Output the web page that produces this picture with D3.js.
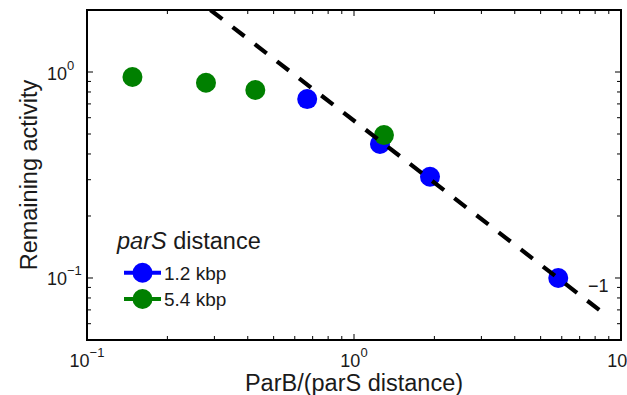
<!DOCTYPE html>
<html>
<head>
<meta charset="utf-8">
<script src="https://cdn.jsdelivr.net/npm/d3@7"></script>
<style>
  html, body { margin: 0; padding: 0; background: #fff; }
  svg { display: block; font-family: "Liberation Sans", Arial, Helvetica, sans-serif; }
  text { fill: #1a1a1a; }
</style>
</head>
<body>
<svg id="chart" width="627" height="395"></svg>
<script>
// Measured activity vs. ParB per parS distance, two parS spacings
const blueX  = [0.668, 1.251, 1.926, 5.82];
const blueY  = [0.739, 0.447, 0.310, 0.100];
const greenX = [0.148, 0.279, 0.427, 1.295];
const greenY = [0.946, 0.887, 0.818, 0.494];

// Power-law guide with slope -1: y = k / x
const guideK = 0.58;
const guideX = [0.29, 9.0];
const guideLabel = "\u22121";

const seriesNames = ["1.2 kbp", "5.4 kbp"];
const seriesColors = ["#0000ff", "#008000"];

const xDomain = [0.1, 10];
const yDomain = [0.05, 2];
const xTickBase = ["10", "10", "10"];
const xTickExp  = ["\u22121", "0", "1"];
const yTickBase = ["10", "10"];
const yTickExp  = ["\u22121", "0"];

const xLabel = "ParB/(parS distance)";
const yLabel = "Remaining activity";

const svg = d3.select("#chart");
const mLeft = 87, mRight = 621, mTop = 10, mBottom = 340;

const x = d3.scaleLog().domain(xDomain).range([mLeft, mRight]);
const y = d3.scaleLog().domain(yDomain).range([mBottom, mTop]);

const isMajor = v => Math.abs(Math.log10(v) - Math.round(Math.log10(v))) < 1e-9;

// Tick marks on all four sides, pointing inward
const ticks = svg.append("g").attr("stroke", "#000").attr("stroke-width", 1);
x.ticks().forEach(v => {
  const L = isMajor(v) ? 6 : 4;
  ticks.append("line").attr("x1", x(v)).attr("x2", x(v)).attr("y1", mBottom).attr("y2", mBottom - L);
  ticks.append("line").attr("x1", x(v)).attr("x2", x(v)).attr("y1", mTop).attr("y2", mTop + L);
});
y.ticks().forEach(v => {
  const L = isMajor(v) ? 6 : 4;
  ticks.append("line").attr("y1", y(v)).attr("y2", y(v)).attr("x1", mLeft).attr("x2", mLeft + L);
  ticks.append("line").attr("y1", y(v)).attr("y2", y(v)).attr("x1", mRight).attr("x2", mRight - L);
});

// Data markers
const plot = svg.append("g");
[[blueX, blueY, 0], [greenX, greenY, 1]].forEach(([xs, ys, i]) => {
  plot.selectAll(null).data(xs.map((v, j) => [v, ys[j]])).enter()
    .append("circle")
    .attr("cx", d => x(d[0])).attr("cy", d => y(d[1]))
    .attr("r", 10).attr("fill", seriesColors[i]);
});

// Dashed slope guide, clipped to the axes box
svg.append("clipPath").attr("id", "box").append("rect")
  .attr("x", mLeft).attr("y", mTop).attr("width", mRight - mLeft).attr("height", mBottom - mTop);
const line = d3.line().x(d => x(d)).y(d => y(guideK / d));
svg.append("path")
  .attr("clip-path", "url(#box)")
  .attr("d", line(guideX))
  .attr("fill", "none").attr("stroke", "#000")
  .attr("stroke-width", 4.2).attr("stroke-dasharray", "15,13");

svg.append("text").attr("x", 588).attr("y", 292)
  .attr("font-size", 18).text(guideLabel);

// Axes box
svg.append("rect").attr("x", mLeft).attr("y", mTop)
  .attr("width", mRight - mLeft).attr("height", mBottom - mTop)
  .attr("fill", "none").attr("stroke", "#000").attr("stroke-width", 2);

// Tick labels with superscript exponents
const xMaj = x.ticks().filter(isMajor);
xMaj.forEach((v, i) => {
  const t = svg.append("text").attr("x", x(v)).attr("y", 367)
    .attr("text-anchor", "middle").attr("font-size", 18);
  t.append("tspan").text(xTickBase[i]);
  t.append("tspan").attr("dy", -10).attr("font-size", 13).text(xTickExp[i]);
});
const yMaj = y.ticks().filter(isMajor);
yMaj.forEach((v, i) => {
  const t = svg.append("text").attr("x", 47).attr("y", y(v) + 7.5)
    .attr("font-size", 18);
  t.append("tspan").text(yTickBase[i]);
  t.append("tspan").attr("dy", -10).attr("font-size", 13).text(yTickExp[i]);
});

// Axis titles
svg.append("text").attr("x", (mLeft + mRight) / 2).attr("y", 391)
  .attr("text-anchor", "middle").attr("font-size", 23.5).text(xLabel);
svg.append("text")
  .attr("transform", `translate(37,${(mTop + mBottom) / 2}) rotate(-90)`)
  .attr("text-anchor", "middle").attr("font-size", 23.5).text(yLabel);

// Legend
const lg = svg.append("g");
const title = lg.append("text").attr("x", 117).attr("y", 249).attr("font-size", 23.5);
title.append("tspan").attr("font-style", "italic").text("parS");
title.append("tspan").text(" distance");
seriesNames.forEach((name, i) => {
  const cy = 272.7 + i * 26.3;
  lg.append("line").attr("x1", 124).attr("x2", 161).attr("y1", cy).attr("y2", cy)
    .attr("stroke", seriesColors[i]).attr("stroke-width", 4);
  lg.append("circle").attr("cx", 142.5).attr("cy", cy).attr("r", 10).attr("fill", seriesColors[i]);
  lg.append("text").attr("x", 164).attr("y", cy + 7).attr("font-size", 19).text(name);
});
</script>
</body>
</html>
